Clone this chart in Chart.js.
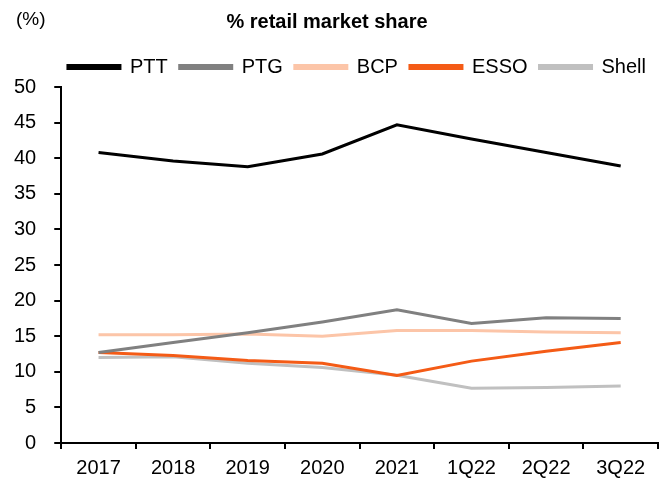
<!DOCTYPE html>
<html>
<head>
<meta charset="utf-8">
<script src="https://cdn.jsdelivr.net/npm/chart.js@4/dist/chart.umd.min.js"></script>
<style>
  html, body { margin: 0; padding: 0; background: #fff; }
</style>
</head>
<body>
<canvas id="shareChart" width="669" height="481"></canvas>
<script>
var categories = ['2017', '2018', '2019', '2020', '2021', '1Q22', '2Q22', '3Q22'];
var pttShare   = [40.8, 39.6, 38.8, 40.6, 44.7, 42.7, 40.8, 38.9];
var ptgShare   = [12.7, 14.1, 15.5, 17.0, 18.7, 16.8, 17.6, 17.5];
var bcpShare   = [15.2, 15.2, 15.3, 15.0, 15.8, 15.8, 15.6, 15.5];
var essoShare  = [12.7, 12.3, 11.6, 11.2, 9.5, 11.5, 12.9, 14.1];
var shellShare = [12.0, 12.1, 11.2, 10.6, 9.5, 7.7, 7.8, 8.0];

var FONT = 'Liberation Sans, Arial, sans-serif';

var line = function line(label, color, data) {
   return {
      label: label,
      data: data,
      borderColor: color,
      backgroundColor: color,
      borderWidth: 3,
      pointRadius: 0,
      tension: 0
   };
};

// "(%)" unit label in the top-left corner
var unitLabel = {
   id: 'unitLabel',
   afterDraw: function(chart) {
      var ctx = chart.ctx;
      ctx.save();
      ctx.font = '19px ' + FONT;
      ctx.fillStyle = '#000';
      ctx.textBaseline = 'middle';
      ctx.fillText('(%)', 16, 20);
      ctx.restore();
   }
};

new Chart(document.getElementById('shareChart'), {
   type: 'line',
   data: {
      labels: categories,
      datasets: [
         line('PTT',   '#000000', pttShare),
         line('PTG',   '#808080', ptgShare),
         line('BCP',   '#fcc5a8', bcpShare),
         line('ESSO',  '#f45b16', essoShare),
         line('Shell', '#c0c0c0', shellShare)
      ]
   },
   options: {
      responsive: false,
      animation: false,
      layout: { padding: { left: -4, right: 11, top: 4, bottom: -6 } },
      scales: {
         x: {
            offset: true,
            grid: {
               offset: true,
               drawOnChartArea: false,
               drawTicks: true,
               tickLength: 6,
               color: '#000',
               lineWidth: 2
            },
            border: { color: '#000', width: 2 },
            ticks: { color: '#000', font: { family: FONT, size: 20 }, maxRotation: 0, padding: 7 }
         },
         y: {
            min: 0,
            max: 50,
            ticks: { stepSize: 5, color: '#000', font: { family: FONT, size: 20 }, padding: 18 },
            grid: {
               drawOnChartArea: false,
               drawTicks: true,
               tickLength: 7,
               color: '#000',
               lineWidth: 2
            },
            border: { color: '#000', width: 2 }
         }
      },
      plugins: {
         title: {
            display: true,
            text: '% retail market share',
            color: '#000',
            font: { family: FONT, size: 20, weight: 'bold' },
            padding: { top: 6, bottom: 11 }
         },
         legend: {
            display: true,
            align: 'end',
            labels: {
               color: '#000',
               font: { family: FONT, size: 20 },
               boxWidth: 52,
               boxHeight: 3,
               padding: 12
            }
         },
         tooltip: { enabled: false }
      }
   },
   plugins: [unitLabel]
});
</script>
</body>
</html>
